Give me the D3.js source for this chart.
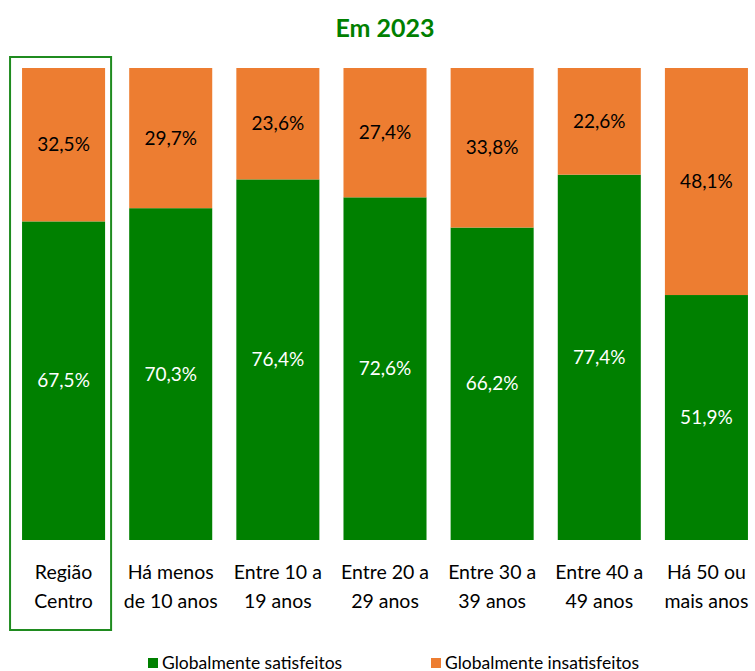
<!DOCTYPE html>
<html>
<head>
<meta charset="utf-8">
<script src="https://cdn.jsdelivr.net/npm/d3@7"></script>
<style>
	body { margin: 0; background: #fff; }
	text { font-family: Lato, 'Open Sans', sans-serif; }
</style>
</head>
<body>
<div id="viz"></div>
<script>
const WIDTH = 755
const HEIGHT = 671

const categories = [
	['Região', 'Centro'],
	['Há menos', 'de 10 anos'],
	['Entre 10 a', '19 anos'],
	['Entre 20 a', '29 anos'],
	['Entre 30 a', '39 anos'],
	['Entre 40 a', '49 anos'],
	['Há 50 ou', 'mais anos']
]
const satisfeitos = [67.5, 70.3, 76.4, 72.6, 66.2, 77.4, 51.9]
const insatisfeitos = [32.5, 29.7, 23.6, 27.4, 33.8, 22.6, 48.1]
const series_names = ['Globalmente satisfeitos', 'Globalmente insatisfeitos']

const GREEN = '#008000'
const ORANGE = '#ED7D31'

const fmt = (v) => v.toFixed(1).replace('.', ',') + '%'

const svg = d3
	.select('#viz')
	.append('svg')
	.attr('width', WIDTH)
	.attr('height', HEIGHT)

svg.append('text')
	.attr('x', 385)
	.attr('y', 37)
	.attr('text-anchor', 'middle')
	.attr('fill', GREEN)
	.style('font-weight', 'bold')
	.style('font-size', '25px')
	.text('Em 2023')

const x = d3
	.scaleBand()
	.domain(d3.range(categories.length))
	.range([10, 760])
	.paddingInner(0.225)
	.paddingOuter(0.1125)

const y = d3.scaleLinear().domain([0, 100]).range([540, 68])

const rows = categories.map((c, i) => ({
	i,
	sat: satisfeitos[i],
	ins: insatisfeitos[i]
}))

const bars = svg.append('g')

// green bottom segment
bars.selectAll('rect.sat')
	.data(rows)
	.enter()
	.append('rect')
	.attr('class', 'sat')
	.attr('x', (d) => x(d.i))
	.attr('width', x.bandwidth())
	.attr('y', (d) => y(d.sat))
	.attr('height', (d) => y(0) - y(d.sat))
	.attr('fill', GREEN)

// orange top segment
bars.selectAll('rect.ins')
	.data(rows)
	.enter()
	.append('rect')
	.attr('class', 'ins')
	.attr('x', (d) => x(d.i))
	.attr('width', x.bandwidth())
	.attr('y', (d) => y(d.sat + d.ins))
	.attr('height', (d) => y(d.sat) - y(d.sat + d.ins))
	.attr('fill', ORANGE)

bars.selectAll('text.sat')
	.data(rows)
	.enter()
	.append('text')
	.attr('x', (d) => x(d.i) + x.bandwidth() / 2)
	.attr('y', (d) => (y(0) + y(d.sat)) / 2)
	.attr('dy', '0.35em')
	.attr('text-anchor', 'middle')
	.attr('fill', '#fff')
	.style('font-size', '19px')
	.text((d) => fmt(d.sat))

bars.selectAll('text.ins')
	.data(rows)
	.enter()
	.append('text')
	.attr('x', (d) => x(d.i) + x.bandwidth() / 2)
	.attr('y', (d) => (y(d.sat) + y(d.sat + d.ins)) / 2)
	.attr('dy', '0.35em')
	.attr('text-anchor', 'middle')
	.attr('fill', '#000')
	.style('font-size', '19px')
	.text((d) => fmt(d.ins))

// category labels, two lines each
const labels = svg.append('g')
categories.forEach((lines, i) => {
	lines.forEach((line, k) => {
		labels.append('text')
			.attr('x', x(i) + x.bandwidth() / 2)
			.attr('y', 579 + k * 29)
			.attr('text-anchor', 'middle')
			.attr('fill', '#000')
			.style('font-size', '19.5px')
			.text(line)
	})
})

// highlight box round the first category
svg.append('rect')
	.attr('x', x(0) - 12)
	.attr('y', 57)
	.attr('width', x.bandwidth() + 18)
	.attr('height', 573)
	.attr('fill', 'none')
	.attr('stroke', '#1f8b1f')
	.attr('stroke-width', 2)

// legend
const legend_x = [148, 431]
const legend = svg.append('g')
series_names.forEach((name, i) => {
	legend.append('rect')
		.attr('x', legend_x[i])
		.attr('y', 658)
		.attr('width', 10)
		.attr('height', 10)
		.attr('fill', i === 0 ? GREEN : ORANGE)
	legend.append('text')
		.attr('x', legend_x[i] + 14)
		.attr('y', 669)
		.attr('fill', '#000')
		.style('font-size', '17.5px')
		.text(name)
})
</script>
</body>
</html>
